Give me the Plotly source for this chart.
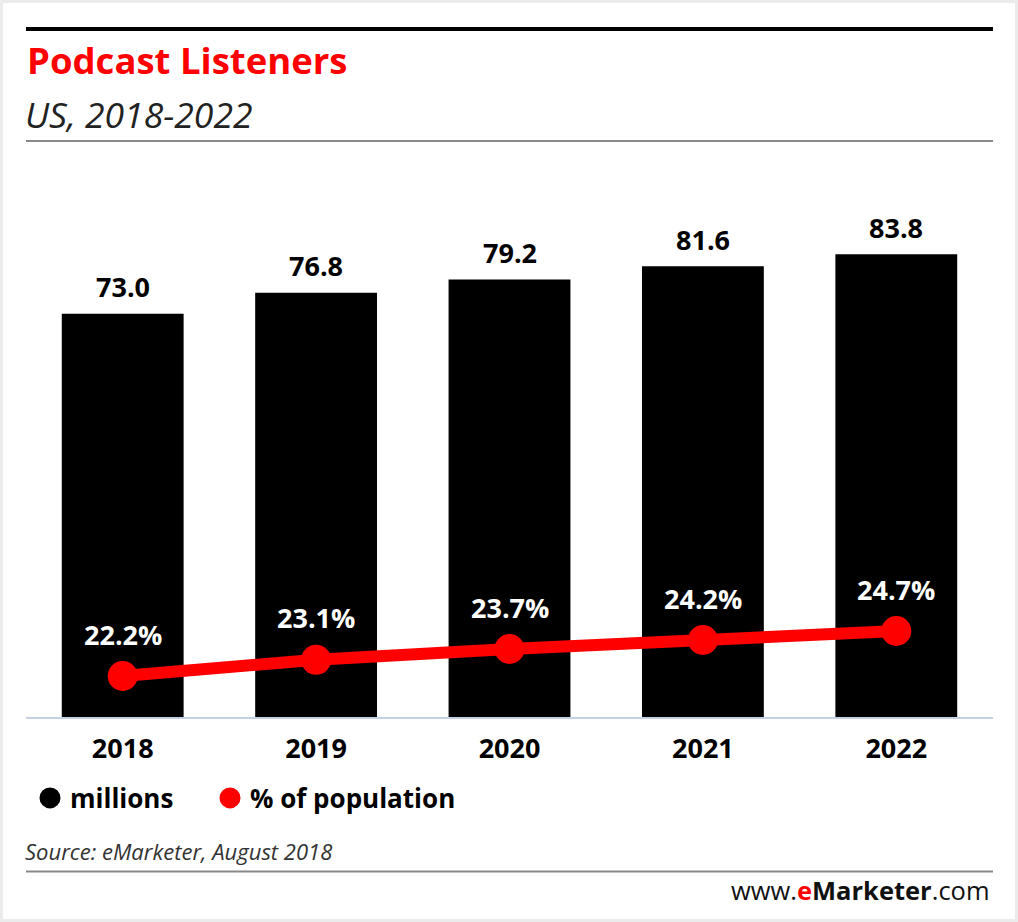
import plotly.graph_objects as go

years = ["2018", "2019", "2020", "2021", "2022"]
millions = [73.0, 76.8, 79.2, 81.6, 83.8]
pct_population = [22.2, 23.1, 23.7, 24.2, 24.7]

W, H = 1018, 922
L, R, T, B = 26, 25, 150, 205
PW, PH = W - L - R, H - T - B


def px_x(p):
    return (p - L) / PW


def px_y(p):
    return (H - B - p) / PH


FONT = "Open Sans, Arial, sans-serif"

fig = go.Figure()

fig.add_trace(go.Bar(
    x=years, y=millions, marker=dict(color="#000000", line=dict(width=0)),
    width=0.63, showlegend=False, hoverinfo="skip", yaxis="y",
))

fig.add_trace(go.Scatter(
    x=years, y=pct_population, mode="lines+markers", yaxis="y2",
    line=dict(color="#ff0000", width=12),
    marker=dict(color="#ff0000", size=30),
    showlegend=False, hoverinfo="skip",
))

# legend-only entries
fig.add_trace(go.Scatter(x=[None], y=[None], mode="markers", name="millions", legend="legend",
                         marker=dict(color="#000000", size=30, symbol="circle",
                                     line=dict(color="#000000", width=6))))
fig.add_trace(go.Scatter(x=[None], y=[None], mode="markers", name="% of population", legend="legend2",
                         marker=dict(color="#ff0000", size=30, symbol="circle",
                                     line=dict(color="#ff0000", width=6))))

annotations = []
for i, v in enumerate(millions):
    annotations.append(dict(
        x=i, y=v, xref="x", yref="y", text=f"<b>{v:.1f}</b>", showarrow=False,
        yanchor="middle", yshift=27, font=dict(family=FONT, size=27, color="#000000"),
    ))
for i, v in enumerate(pct_population):
    annotations.append(dict(
        x=i, y=v, xref="x", yref="y2", text=f"<b>{v:.1f}%</b>", showarrow=False,
        yanchor="middle", yshift=42, font=dict(family=FONT, size=27, color="#ffffff"),
    ))

annotations += [
    dict(x=px_x(25), y=px_y(60), xref="paper", yref="paper", xanchor="left", yanchor="middle",
         text="<b>Podcast Listeners</b>", showarrow=False,
         font=dict(family=FONT, size=36.5, color="#ff0000")),
    dict(x=px_x(23), y=px_y(114), xref="paper", yref="paper", xanchor="left", yanchor="middle",
         text="<i>US, 2018-2022</i>", showarrow=False,
         font=dict(family=FONT, size=35.5, color="#222222")),
    dict(x=px_x(23), y=px_y(851), xref="paper", yref="paper", xanchor="left", yanchor="middle",
         text="<i>Source: eMarketer, August 2018</i>", showarrow=False,
         font=dict(family=FONT, size=22, color="#333333")),
    dict(x=px_x(992), y=px_y(890), xref="paper", yref="paper", xanchor="right", yanchor="middle",
         text="www.<b><span style='color:#ff0000'>e</span>Marketer</b>.com", showarrow=False,
         font=dict(family=FONT, size=25.5, color="#111111")),
]

shapes = [
    dict(type="line", xref="paper", yref="paper", x0=0, x1=px_x(993), y0=px_y(29), y1=px_y(29),
         line=dict(color="#000000", width=4)),
    dict(type="line", xref="paper", yref="paper", x0=0, x1=px_x(993), y0=px_y(141), y1=px_y(141),
         line=dict(color="#888888", width=2)),
    dict(type="line", xref="paper", yref="paper", x0=0, x1=px_x(993), y0=px_y(871.5), y1=px_y(871.5),
         line=dict(color="#888888", width=2)),
    dict(type="rect", xref="paper", yref="paper", x0=px_x(1.5), x1=px_x(1016.5),
         y0=px_y(920.5), y1=px_y(1.5), line=dict(color="#ebebeb", width=3), layer="below"),
]

legend_style = dict(
    orientation="h", xanchor="left", yanchor="middle", y=px_y(798),
    font=dict(family=FONT, size=26, color="#000000", weight="bold"),
    bgcolor="rgba(0,0,0,0)", itemsizing="trace",
)

fig.update_layout(
    width=W, height=H,
    margin=dict(l=L, r=R, t=T, b=B, pad=0),
    paper_bgcolor="#ffffff", plot_bgcolor="#ffffff",
    xaxis=dict(
        type="category", range=[-0.5, 4.5], showgrid=False, zeroline=False,
        showline=True, linecolor="#c5d0e4", linewidth=2, ticks="",
        tickfont=dict(family=FONT, size=27, color="#000000"),
        ticklabelstandoff=7,
        tickvals=years, ticktext=[f"<b>{y}</b>" for y in years],
    ),
    yaxis=dict(range=[0, PH / 5.523], visible=False, showgrid=False, zeroline=False),
    yaxis2=dict(range=[22.2 - 41 / 18, 22.2 - 41 / 18 + PH / 18], overlaying="y",
                visible=False, showgrid=False, zeroline=False),
    legend=dict(x=px_x(30), **legend_style),
    legend2=dict(x=px_x(210), **legend_style),
    annotations=annotations,
    shapes=shapes,
    font=dict(family=FONT),
)

fig.write_html("out.html")
